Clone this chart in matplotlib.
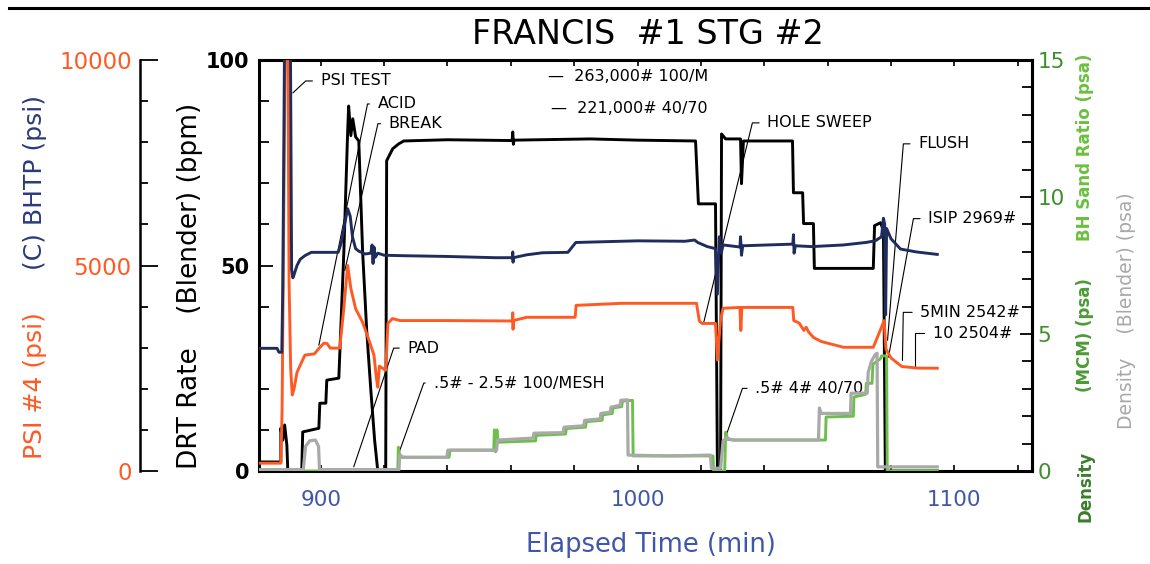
import matplotlib
matplotlib.use('Agg')
from matplotlib import pyplot as plt
from matplotlib.lines import Line2D
from matplotlib.ticker import MultipleLocator

plt.rcParams['font.family'] = ['DejaVu Sans']

# ---- DRT rate (blender), bpm
rate_t = [880.8, 887.4, 887.4, 888.0, 888.6, 889.3, 889.6, 894.0, 894.3, 899.4,
          899.7, 901.6, 901.9, 905.7, 906.3, 907.3, 907.9, 908.5, 908.8, 909.5,
          910.1, 911.0, 912.0, 913.2, 914.5, 915.8, 917.0, 918.0, 920.5, 920.8,
          922.7, 924.6, 926.2, 940.0, 960.4, 960.6, 960.8, 961.0, 985.0, 1000.0,
          1018.3, 1019.2, 1024.6, 1025.2, 1026.2, 1026.5, 1027.8, 1032.5, 1032.8, 1033.4,
          1048.9, 1049.2, 1052.1, 1052.4, 1055.5, 1055.8, 1074.4, 1074.8, 1076.7, 1077.6,
          1078.2, 1094.6]
rate_v = [2.2, 2.2, 10.4, 7.5, 11.2, 6.3, 0, 0, 9.5, 10.4,
          16.5, 16.5, 22.1, 22.6, 34.2, 53.6, 68.2, 82.8, 88.8, 81.6,
          85.7, 81.3, 80.3, 53.6, 34.2, 19.7, 7.5, 0, 0, 75.5,
          78.4, 79.6, 80.3, 80.6, 80.4, 82.5, 79.5, 80.5, 80.8, 80.5,
          80.3, 65.0, 65.0, 0, 0, 82.0, 80.8, 80.8, 69.9, 80.3,
          80.3, 67.7, 67.7, 60.2, 60.2, 49.3, 49.3, 59.7, 60.4, 58.5,
          0, 0]

# ---- (C) BHTP, psi
bhtp_t = [880.8, 886.2, 886.8, 887.7, 888.0, 888.3, 888.6, 890.4, 890.8, 891.2,
          891.5, 892.5, 893.5, 895.0, 897.0, 905.5, 906.5, 907.5, 908.5, 909.3,
          910.0, 911.0, 912.0, 914.0, 915.8, 916.2, 916.5, 916.8, 917.2, 918.0,
          920.0, 925.0, 940.0, 955.0, 960.5, 960.6, 960.7, 960.8, 965.0, 970.0,
          978.0, 980.5, 990.0, 1000.0, 1015.0, 1018.0, 1019.0, 1022.0, 1024.6, 1025.2,
          1025.8, 1026.4, 1027.0, 1032.3, 1032.5, 1032.8, 1033.2, 1049.0, 1049.2, 1049.4,
          1049.8, 1055.0, 1065.0, 1072.0, 1075.0, 1077.0, 1077.6, 1078.0, 1078.3, 1078.6,
          1080.0, 1083.0, 1088.0, 1094.6]
bhtp_v = [2985, 2985, 2890, 2890, 4400, 7500, 10800, 10800, 4900, 4700,
          4760, 5000, 5150, 5240, 5320, 5320, 5560, 6000, 6380, 6200,
          5700, 5410, 5350, 5280, 5300, 5500, 5050, 5450, 5200, 5300,
          5250, 5240, 5220, 5190, 5190, 5330, 5080, 5190, 5260, 5310,
          5320, 5560, 5580, 5600, 5590, 5620, 5560, 5460, 5410, 4300,
          5700, 5300, 5500, 5450, 5700, 5250, 5480, 5520, 5750, 5300,
          5480, 5460, 5500, 5560, 5600, 5700, 6150, 6000, 3800, 5900,
          5650, 5400, 5330, 5270]

# ---- PSI #4, psi
psi_t = [880.8, 887.4, 887.8, 888.3, 888.8, 889.6, 890.0, 890.5, 891.0, 891.6,
         892.5, 893.5, 895.0, 898.0, 899.5, 901.0, 902.0, 903.0, 906.0, 907.2,
         908.5, 909.5, 911.0, 913.2, 915.0, 916.8, 917.5, 918.0, 918.5, 920.5,
         921.2, 922.6, 925.0, 940.0, 960.5, 960.6, 960.7, 960.8, 965.0, 980.3,
         980.6, 995.0, 1018.6, 1019.5, 1020.3, 1024.6, 1025.2, 1026.2, 1027.0, 1032.3,
         1032.6, 1032.9, 1049.0, 1049.3, 1051.0, 1052.5, 1053.2, 1054.0, 1055.5, 1058.0,
         1060.0, 1065.0, 1074.4, 1077.0, 1077.8, 1078.4, 1080.0, 1083.4, 1088.4, 1094.6]
psi_v = [190, 190, 1500, 6000, 10800, 10800, 4600, 2500, 1850, 2010,
         2400, 2570, 2820, 2850, 2990, 3110, 3100, 2990, 2990, 3900,
         5000, 4440, 3950, 3620, 3230, 2820, 2300, 2040, 2550, 2450,
         3590, 3710, 3660, 3660, 3650, 3850, 3450, 3660, 3740, 3740,
         4030, 4080, 4080, 3650, 3590, 3590, 2700, 3700, 3960, 3980,
         3420, 3980, 3980, 3660, 3600, 3420, 3500, 3380, 3250, 3150,
         3110, 3010, 3010, 3500, 3660, 2969, 2750, 2542, 2504, 2500]

# ---- Density (Blender), psa
dens_b_t = [880.8, 894.5, 895.2, 896.5, 898.3, 899.3, 899.6, 924.7, 924.9, 926.0,
            939.8, 940.1, 955.5, 955.8, 967.0, 967.3, 976.5, 976.8, 983.0, 983.3,
            988.2, 988.4, 991.4, 991.6, 994.5, 994.7, 996.8, 997.0, 1010.0, 1023.0,
            1023.3, 1026.2, 1027.0, 1028.0, 1030.0, 1057.1, 1057.4, 1058.0, 1067.2, 1067.4,
            1072.5, 1072.8, 1073.8, 1075.0, 1075.6, 1075.8, 1094.6]
dens_b_v = [0.05, 0.05, 0.9, 1.1, 1.13, 0.9, 0.05, 0.05, 0.6, 0.5,
            0.5, 0.76, 0.76, 1.13, 1.2, 1.38, 1.4, 1.6, 1.65, 1.85,
            1.9, 2.1, 2.15, 2.33, 2.4, 2.58, 2.6, 0.58, 0.55, 0.58,
            0.1, 0.1, 1.1, 1.2, 1.13, 1.13, 2.3, 2.1, 2.1, 2.84,
            2.84, 3.6, 4.0, 4.25, 4.3, 0.15, 0.15]

# ---- Density (MCM), psa
dens_m_t = [880.8, 924.3, 924.5, 925.0, 940.5, 940.8, 954.6, 954.8, 955.2, 955.6,
            956.0, 967.8, 968.0, 977.3, 977.5, 983.6, 983.8, 988.8, 989.0, 992.0,
            992.2, 995.0, 995.2, 998.4, 998.6, 1023.8, 1024.0, 1027.5, 1027.8, 1028.5,
            1031.0, 1059.3, 1059.5, 1068.1, 1068.3, 1072.0, 1072.2, 1074.0, 1074.3, 1076.7,
            1077.0, 1078.6, 1078.8, 1094.6]
dens_m_v = [0.0, 0.0, 0.87, 0.5, 0.5, 0.76, 0.76, 1.5, 0.7, 1.5,
            1.05, 1.1, 1.3, 1.35, 1.55, 1.6, 1.8, 1.85, 2.05, 2.1,
            2.3, 2.35, 2.55, 2.58, 0.55, 0.55, 0.0, 0.0, 1.42, 1.15,
            1.13, 1.13, 1.97, 2.0, 2.7, 2.8, 3.2, 3.2, 3.9, 4.1,
            4.2, 4.2, 0.0, 0.0]

# stage annotations: text, text pos (min, bpm), point (min, bpm), leader angle
notes = [
    ('PSI TEST', 900.0, 94.9, 891.2, 92.0, 43),
    ('ACID', 918.0, 89.3, 899.4, 30.6, 78.6),
    ('BREAK', 921.5, 84.5, 907.6, 48.8, 77.3),
    ('PAD', 927.4, 29.9, 910.4, 1.0, 71.4),
    ('.5# - 2.5# 100/MESH', 935.6, 21.4, 924.3, 3.6, 70.4),
    ('HOLE SWEEP', 1041.0, 84.7, 1020.8, 35.9, 76.3),
    ('.5# 4# 40/70', 1037.2, 20.1, 1027.8, 8.3, 70.9),
    ('FLUSH', 1088.6, 79.6, 1078.9, 31.8, 85.4),
    ('ISIP 2969#', 1091.8, 61.4, 1079.2, 27.7, 79.8),
    ('5MIN 2542#', 1089.3, 38.6, 1083.6, 26.9, 89),
    ('10 2504#', 1093.1, 33.5, 1087.7, 25.5, 90),
]
sand_notes = [('\u2014  263,000# 100/M', 971.6, 96.1),
              ('\u2014  221,000# 40/70', 972.6, 88.1)]

c_orange = '#ff5a24'
c_navy = '#1f2d5c'
c_xblue = '#3f57a8'
c_green = '#6cc04a'
c_grey = '#a9a9a9'

fig = plt.figure(figsize=(11.5, 5.64), dpi=100)
ax = fig.add_axes([0.2252, 0.1649, 0.6722, 0.7287])
axp = ax.twinx()
axd = ax.twinx()

ax.plot(rate_t, rate_v, color='black', lw=2.1)
axp.plot(psi_t, psi_v, color=c_orange, lw=2.1)
axp.plot(bhtp_t, bhtp_v, color=c_navy, lw=2.1)
axd.plot(dens_m_t, dens_m_v, color=c_green, lw=2.1)
axd.plot(dens_b_t, dens_b_v, color=c_grey, lw=2.3)

ax.set_xlim(880.5, 1124.5)
ax.set_ylim(0, 100)
axp.set_ylim(0, 10000)
axd.set_ylim(0, 15)

# rate axis
for s in ax.spines.values():
    s.set_linewidth(2.2)
ax.yaxis.set_major_locator(MultipleLocator(50))
ax.yaxis.set_minor_locator(MultipleLocator(10))
ax.tick_params(axis='y', which='both', direction='in', left=True, right=False,
               width=1.3, labelsize=15, pad=7)
ax.tick_params(axis='y', which='major', length=10)
ax.tick_params(axis='y', which='minor', length=7)
for lab in ax.get_yticklabels():
    lab.set_fontweight('bold')

ax.xaxis.set_major_locator(MultipleLocator(100))
ax.xaxis.set_minor_locator(MultipleLocator(20))
ax.tick_params(axis='x', which='both', direction='in', top=True, bottom=True,
               length=4, width=1.2, labelsize=15.5, labelcolor=c_xblue, pad=14)

# psi axis on the far left
axp.spines['right'].set_visible(False)
axp.spines['top'].set_visible(False)
axp.spines['bottom'].set_visible(False)
axp.spines['left'].set_visible(True)
axp.spines['left'].set_position(('axes', -0.154))
axp.spines['left'].set_linewidth(1.8)
axp.yaxis.tick_left()
axp.yaxis.set_major_locator(MultipleLocator(5000))
axp.yaxis.set_minor_locator(MultipleLocator(1000))
axp.tick_params(axis='y', which='both', direction='in', width=1.3,
                labelsize=16.5, labelcolor=c_orange, pad=6)
axp.tick_params(axis='y', which='major', length=13)
axp.tick_params(axis='y', which='minor', length=6)

# density axis on the right
for k in ['left', 'top', 'bottom']:
    axd.spines[k].set_visible(False)
axd.spines['right'].set_linewidth(2.2)
axd.yaxis.set_major_locator(MultipleLocator(5))
axd.yaxis.set_minor_locator(MultipleLocator(1))
axd.tick_params(axis='y', which='both', direction='in', width=1.3,
                labelsize=15.5, labelcolor='#3e8e2e', pad=4)
axd.tick_params(axis='y', which='major', length=9)
axd.tick_params(axis='y', which='minor', length=7)

for txt, tx, ty, px, py, ang in notes:
    ax.annotate(txt, xy=(px, py), xytext=(tx, ty), ha='left', va='center',
                fontsize=11.5,
                arrowprops=dict(arrowstyle='-', lw=0.8, color='black',
                                relpos=(0, 0.5), shrinkA=4, shrinkB=0,
                                connectionstyle='angle,angleA=0,angleB=%g,rad=0' % ang))
for txt, tx, ty in sand_notes:
    ax.text(tx, ty, txt, ha='left', va='center', fontsize=11.5)

# titles and side labels
fig.text(0.5635, 0.938, 'FRANCIS  #1 STG #2', ha='center', va='center', fontsize=24)
fig.add_artist(Line2D([0.008, 1.0], [0.985, 0.985], color='black', lw=2.2))

fig.text(0.0305, 0.316, 'PSI #4 (psi)', rotation=90, ha='center', va='center',
         fontsize=18, color=c_orange)
fig.text(0.0305, 0.677, '(C) BHTP (psi)', rotation=90, ha='center', va='center',
         fontsize=18, color='#2a3a7c')
fig.text(0.165, 0.494, 'DRT Rate    (Blender) (bpm)', rotation=90, ha='center',
         va='center', fontsize=19, color='black')

fig.text(0.9435, 0.137, 'Density', rotation=90, ha='center', va='center',
         fontsize=12, fontweight='bold', color='#3a7d2c')
fig.text(0.9435, 0.406, '(MCM) (psa)', rotation=90, ha='center', va='center',
         fontsize=12, fontweight='bold', color='#4c9a35')
fig.text(0.9435, 0.739, 'BH Sand Ratio (psa)', rotation=90, ha='center', va='center',
         fontsize=12, fontweight='bold', color='#6cbf3f')
fig.text(0.980, 0.45, 'Density    (Blender) (psa)', rotation=90, ha='center',
         va='center', fontsize=13.5, color='#a8a8a8')

fig.text(0.5656, 0.034, 'Elapsed Time (min)', ha='center', va='center',
         fontsize=18.5, color=c_xblue)

fig.savefig('out.png', dpi=100)
